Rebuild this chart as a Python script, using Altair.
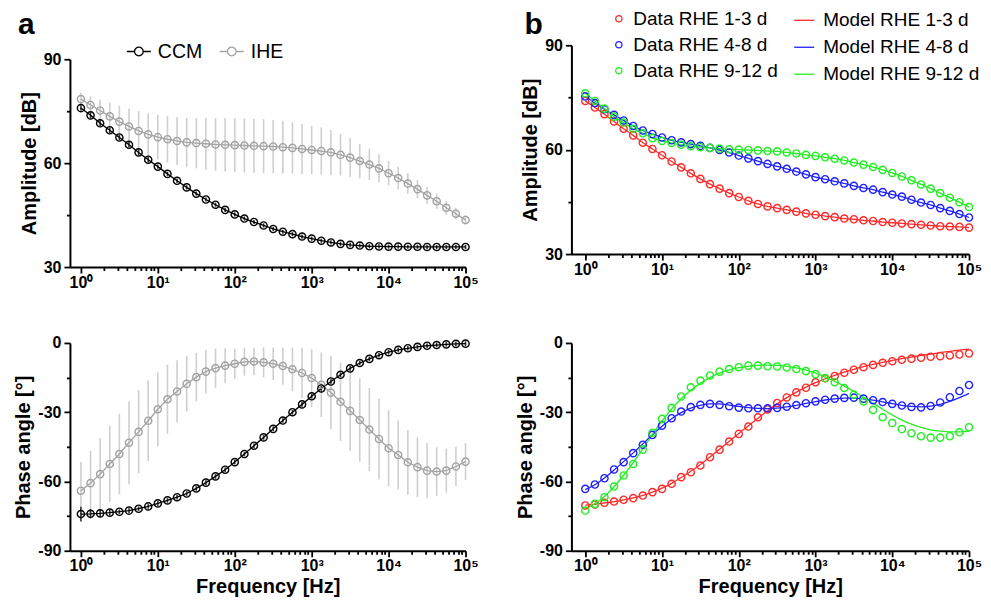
import altair as alt
import pandas as pd

FONT = "Liberation Sans"

# ---------------- data ----------------
freq = [1, 1.334, 1.778, 2.371, 3.162, 4.217, 5.623, 7.499,
        10, 13.34, 17.78, 23.71, 31.62, 42.17, 56.23, 74.99,
        100, 133.4, 177.8, 237.1, 316.2, 421.7, 562.3, 749.9,
        1000, 1334, 1778, 2371, 3162, 4217, 5623, 7499,
        10000, 13335, 17783, 23714, 31623, 42170, 56234, 74989,
        100000]

ccm_amp = [75.9, 73.8, 71.5, 69.5, 67.4, 65.3, 63.1, 61.0,
           59.0, 56.9, 54.9, 53.0, 51.2, 49.5, 48.0, 46.5,
           45.2, 44.0, 43.0, 42.0, 41.0, 40.2, 39.5, 38.8,
           38.2, 37.6, 37.1, 36.7, 36.4, 36.2, 36.0, 35.95,
           35.9, 35.9, 35.85, 35.85, 35.8, 35.8, 35.8, 35.8, 35.8]
ccm_amp_err = [0.8] * 8 + [0.6] * 33
ihe_amp = [78.5, 76.8, 75.2, 73.5, 72.0, 70.6, 69.3, 68.3,
           67.5, 66.9, 66.4, 66.0, 65.8, 65.6, 65.4, 65.3,
           65.2, 65.1, 65.0, 64.9, 64.8, 64.6, 64.4, 64.1,
           63.8, 63.5, 63.1, 62.4, 61.6, 60.6, 59.6, 58.5,
           57.1, 55.7, 54.1, 52.5, 50.7, 49.0, 47.1, 45.4, 43.6]
ihe_amp_err = [1.8, 2.5, 3.2, 4.0, 4.6, 5.2, 5.7, 6.1,
               6.4, 6.7, 6.9, 7.1, 7.3, 7.5, 7.6, 7.7,
               7.8, 7.8, 7.8, 7.8, 7.7, 7.6, 7.4, 7.2,
               7.0, 6.8, 6.5, 6.0, 5.6, 5.0, 4.5, 4.1,
               3.5, 3.3, 3.0, 2.7, 2.4, 2.2, 2.0, 1.7, 1.4]

ccm_ph = [-74.1, -74.0, -73.8, -73.5, -73.1, -72.6, -71.8, -70.8,
          -69.5, -68.2, -66.8, -65.2, -63.0, -60.5, -57.8, -54.9,
          -51.6, -48.1, -44.5, -40.9, -37.2, -33.6, -30.0, -26.6,
          -23.1, -19.7, -16.7, -13.8, -11.0, -8.7, -6.9, -5.3,
          -4.0, -3.0, -2.3, -1.7, -1.2, -0.9, -0.6, -0.4, -0.3]
ccm_ph_err = [3.2, 2.0, 1.5, 1.2] + [1.0] * 37
ihe_ph = [-64.0, -60.7, -56.8, -52.4, -48.1, -43.2, -38.5, -33.7,
          -28.7, -24.4, -21.0, -17.7, -14.8, -12.4, -10.9, -9.8,
          -9.0, -8.2, -8.0, -8.4, -9.0, -10.0, -11.4, -13.0,
          -15.2, -18.1, -21.5, -25.5, -29.4, -33.4, -37.5, -41.6,
          -45.6, -48.5, -51.7, -53.8, -55.3, -55.7, -55.3, -53.5, -51.4]
ihe_ph_err = [12.5, 14, 15.5, 16.5, 17.5, 18, 18, 17.5,
              16, 15, 13.5, 12, 10.5, 9.5, 8.5, 7.5,
              6.5, 6, 6, 6.5, 7, 8, 9.5, 11,
              12.5, 14, 16, 17, 17.5, 18, 18, 17.5,
              16.5, 15, 14, 13, 12, 10.5, 9.5, 8.5, 8]

red_amp = [74.0, 72.1, 70.2, 68.1, 66.0, 64.1, 62.0, 60.2,
           58.4, 56.6, 54.9, 53.2, 51.6, 50.1, 48.8, 47.5,
           46.4, 45.3, 44.4, 43.7, 43.2, 42.7, 42.2, 41.7,
           41.3, 40.9, 40.6, 40.2, 40.0, 39.7, 39.5, 39.2,
           39.0, 38.8, 38.6, 38.4, 38.2, 38.0, 37.9, 37.8, 37.6]
blue_amp = [75.3, 73.4, 71.6, 70.0, 68.4, 66.8, 65.5, 64.5,
            63.5, 62.7, 62.1, 61.6, 61.1, 60.5, 59.9, 59.2,
            58.3, 57.5, 56.7, 55.9, 55.2, 54.5, 53.7, 52.9,
            52.1, 51.5, 50.9, 50.3, 49.6, 49.0, 48.5, 47.8,
            47.1, 46.5, 45.6, 44.8, 44.1, 43.2, 42.4, 41.5, 40.5]
green_amp = [76.2, 74.0, 71.8, 69.5, 67.8, 66.0, 64.7, 63.3,
             62.5, 61.9, 61.4, 61.0, 60.7, 60.5, 60.3, 60.1,
             60.0, 59.9, 59.8, 59.6, 59.5, 59.2, 58.9, 58.5,
             58.2, 57.8, 57.4, 56.9, 56.3, 55.7, 55.0, 54.2,
             53.3, 52.3, 51.2, 50.0, 48.8, 47.5, 46.2, 44.9, 43.5]
# model amplitude curves run through the data points
red_amp_model = red_amp
blue_amp_model = blue_amp
green_amp_model = green_amp

red_ph = [-70.4, -70.0, -69.2, -68.7, -67.9, -67.2, -66.1, -64.6,
          -63.2, -61.0, -58.1, -56.0, -53.1, -49.5, -46.2, -42.7,
          -39.4, -36.2, -32.2, -28.8, -26.0, -23.6, -21.4, -19.4,
          -17.0, -15.3, -14.3, -12.9, -11.6, -10.5, -9.5, -8.6,
          -7.9, -7.3, -6.8, -6.4, -6.0, -5.7, -5.4, -5.0, -4.5]
blue_ph = [-63.2, -61.3, -58.6, -54.8, -51.6, -47.7, -44.1, -39.8,
           -35.8, -32.6, -29.7, -27.8, -26.8, -26.4, -26.8, -27.4,
           -28.0, -28.3, -28.3, -28.3, -28.1, -27.6, -26.9, -26.1,
           -25.3, -24.6, -24.1, -23.8, -23.7, -24.1, -24.8, -25.6,
           -26.4, -27.1, -27.7, -27.9, -27.3, -25.8, -23.5, -20.8, -18.2]
green_ph = [-72.6, -69.7, -66.8, -62.2, -57.4, -52.4, -46.2, -38.9,
            -32.9, -28.1, -23.2, -19.2, -16.3, -14.1, -12.4, -11.3,
            -10.5, -9.8, -9.8, -10.1, -10.2, -10.6, -11.3, -12.2,
            -13.5, -15.2, -17.0, -19.5, -22.4, -25.3, -29.0, -32.2,
            -34.7, -37.3, -39.1, -40.4, -41.0, -41.0, -40.4, -38.7, -36.5]
red_ph_model = [-70.2, -69.9, -69.3, -68.7, -68.0, -67.1, -66.0, -64.6,
                -62.9, -60.8, -58.3, -55.6, -52.6, -49.4, -46.0, -42.6,
                -39.2, -35.9, -32.6, -29.4, -26.4, -23.7, -21.3, -19.1,
                -17.2, -15.5, -14.0, -12.6, -11.4, -10.3, -9.3, -8.4,
                -7.6, -6.8, -6.1, -5.4, -4.8, -4.2, -3.6, -3.1, -2.7]
blue_ph_model = [-63.5, -61.4, -58.5, -55.0, -51.4, -47.6, -43.7, -39.8,
                 -36.1, -32.8, -30.2, -28.2, -27.0, -26.4, -26.4, -26.9,
                 -27.5, -28.0, -28.3, -28.4, -28.2, -27.7, -27.0, -26.2,
                 -25.4, -24.7, -24.2, -23.9, -23.9, -24.2, -24.8, -25.5,
                 -26.3, -27.0, -27.5, -27.7, -27.4, -26.6, -25.3, -23.7, -21.8]
green_ph_model = [-71.8, -69.6, -66.5, -62.3, -57.3, -51.8, -45.8, -39.6,
                  -33.8, -28.6, -24.2, -20.5, -17.5, -15.0, -13.1, -11.7,
                  -10.7, -10.1, -9.7, -9.6, -9.7, -10.1, -10.8, -11.8,
                  -13.1, -14.7, -16.6, -18.7, -21.0, -23.5, -26.1, -28.7,
                  -31.2, -33.4, -35.2, -36.6, -37.6, -38.2, -38.5, -38.5, -38.3]

series_a = ["CCM", "IHE"]
colors_a = ["#000000", "#a3a3a3"]
data_labels = ["Data RHE 1-3 d", "Data RHE 4-8 d", "Data RHE 9-12 d"]
model_labels = ["Model RHE 1-3 d", "Model RHE 4-8 d", "Model RHE 9-12 d"]
colors_b = ["#ff2a2a", "#2020ff", "#22ee22"]
panel_letters = ["a", "b"]

x_ticks = [m * 10 ** d for d in range(5) for m in range(1, 10)] + [100000]
amp_ticks = [30, 45, 60, 75, 90]
ph_ticks = [-90, -75, -60, -45, -30, -15, 0]

# ---------------- tables ----------------
n = len(freq)
dfA = pd.DataFrame({
    "f": freq * 2,
    "series": ["IHE"] * n + ["CCM"] * n,
    "amp": ihe_amp + ccm_amp,
    "amp_err": ihe_amp_err + ccm_amp_err,
    "ph": ihe_ph + ccm_ph,
    "ph_err": ihe_ph_err + ccm_ph_err,
})
dfA["amp_lo"] = dfA["amp"] - dfA["amp_err"]
dfA["amp_hi"] = dfA["amp"] + dfA["amp_err"]
dfA["ph_lo"] = dfA["ph"] - dfA["ph_err"]
dfA["ph_hi"] = dfA["ph"] + dfA["ph_err"]

dfB = pd.DataFrame({
    "f": freq * 3,
    "dlabel": sum([[l] * n for l in data_labels], []),
    "mlabel": sum([[l] * n for l in model_labels], []),
    "amp": red_amp + blue_amp + green_amp,
    "amp_m": red_amp_model + blue_amp_model + green_amp_model,
    "ph": red_ph + blue_ph + green_ph,
    "ph_m": red_ph_model + blue_ph_model + green_ph_model,
})

# ---------------- axes ----------------
IS_DEC = "abs(log(datum.value)/LN10 - round(log(datum.value)/LN10)) < 0.001"
X_LABEL = (IS_DEC + " ? '10' + ['\u2070','\u00b9','\u00b2','\u00b3','\u2074','\u2075']"
           "[round(log(datum.value)/LN10)] : ''")
Y_MAJOR = "datum.value % 30 == 0"

common_axis = dict(
    grid=False, domainColor="black", domainWidth=2, tickColor="black", tickWidth=1.8,
    labelFont=FONT, labelFontSize=16, labelFontWeight="bold", labelColor="black",
    titleFont=FONT, titleFontSize=20, titleFontWeight="bold", titleColor="black",
    labelOverlap=False, labelFlush=False,
)


def x_axis(title):
    return alt.Axis(values=x_ticks, labelExpr=X_LABEL, title=title,
                    tickSize={"condition": {"test": IS_DEC, "value": 6}, "value": 3.5},
                    labelPadding=1, titlePadding=3, **common_axis)


def y_axis(title, ticks):
    return alt.Axis(values=ticks, title=title,
                    labelExpr=Y_MAJOR + " ? '' + datum.value : ''",
                    tickSize={"condition": {"test": Y_MAJOR, "value": 6}, "value": 3.5},
                    labelPadding=3, titlePadding=4, **common_axis)


def xenc(xmin, title):
    return alt.X("f:Q", scale=alt.Scale(type="log", domain=[xmin, 100000], nice=False),
                 axis=x_axis(title))


def yenc(field, dom, title, ticks, rng):
    if rng:
        sc = alt.Scale(domain=dom, range=rng, nice=False, zero=False)
    else:
        sc = alt.Scale(domain=dom, nice=False, zero=False)
    return alt.Y(field, scale=sc, axis=y_axis(title, ticks))


def letter(txt, dx, dy):
    return alt.Chart(pd.DataFrame({"t": [txt]})).mark_text(
        font=FONT, fontSize=30, fontWeight="bold", align="left", baseline="alphabetic",
        color="black",
    ).encode(text="t:N", x=alt.value(dx), y=alt.value(dy))


W_A, W_B = 396, 398
H_A_TOP, A_TOP_OFFSET = 222, 14     # left top panel sits 14px lower than right top panel
H_B_TOP, H_BOT = 209, 208
XMIN_A, XMIN_B = 0.72, 0.66

# ---------------- panel a ----------------
legendA = alt.Legend(
    orient="none", legendX=56, legendY=-7, direction="horizontal", title=None,
    symbolType="M-1,0L-0.36,0M0.36,0L1,0M0.36,0A0.36,0.36,0,1,1,-0.36,0A0.36,0.36,0,1,1,0.36,0",
    symbolSize=576, symbolStrokeWidth=1.3, symbolFillColor="transparent",
    labelFont=FONT, labelFontSize=19.5, labelColor="black", labelOffset=6, labelLimit=300,
    columnPadding=14, padding=0,
)
err_color = alt.condition("datum.series == 'IHE'", alt.value("#cfcfcf"), alt.value("#333333"))


def panel_a(var, dom, ytitle, ticks, xtitle, legend, extra, height, rng):
    base = alt.Chart(dfA)
    cenc = alt.Color("series:N", scale=alt.Scale(domain=series_a, range=colors_a),
                     legend=legendA if legend else None)
    err = base.mark_rule(strokeWidth=1.6).encode(
        x=xenc(XMIN_A, xtitle),
        y=yenc(var + "_lo:Q", dom, ytitle, ticks, rng),
        y2=var + "_hi:Q",
        color=err_color,
    )
    line = base.mark_line(strokeWidth=1.3).encode(
        x=xenc(XMIN_A, xtitle), y=yenc(var + ":Q", dom, ytitle, ticks, rng), color=cenc)
    pts = base.mark_point(filled=False, size=52, strokeWidth=1.4, opacity=1).encode(
        x=xenc(XMIN_A, xtitle), y=yenc(var + ":Q", dom, ytitle, ticks, rng), color=cenc)
    layers = [err, line, pts] + extra
    return alt.layer(*layers).properties(width=W_A, height=height)


a_top = panel_a("amp", [30, 90], "Amplitude [dB]", amp_ticks, None, True,
                [letter(panel_letters[0], -52, -11)], H_A_TOP, [H_A_TOP, A_TOP_OFFSET])
a_bot = panel_a("ph", [-90, 0], "Phase angle [°]", ph_ticks, "Frequency [Hz]", False, [],
                H_BOT, None)

# ---------------- panel b ----------------
legend_data = alt.Legend(
    orient="none", legendX=38, legendY=-36, direction="vertical", title=None,
    symbolType="circle", symbolSize=40, symbolStrokeWidth=1.3, symbolFillColor="transparent",
    labelFont=FONT, labelFontSize=19, labelColor="black", labelOffset=5, labelLimit=300,
    rowPadding=6, padding=0,
)
legend_model = alt.Legend(
    orient="none", legendX=222, legendY=-36, direction="vertical", title=None,
    symbolType="stroke", symbolSize=400, symbolStrokeWidth=1.3,
    labelFont=FONT, labelFontSize=19, labelColor="black", labelOffset=8, labelLimit=300,
    rowPadding=6, padding=0,
)


def panel_b(var, dom, ytitle, ticks, xtitle, legend, extra, height):
    base = alt.Chart(dfB)
    cd = alt.Color("dlabel:N", scale=alt.Scale(domain=data_labels, range=colors_b),
                   legend=legend_data if legend else None)
    cm = alt.Color("mlabel:N", scale=alt.Scale(domain=model_labels, range=colors_b),
                   legend=legend_model if legend else None)
    line = base.mark_line(strokeWidth=1.3, interpolate="monotone").encode(
        x=xenc(XMIN_B, xtitle), y=yenc(var + "_m:Q", dom, ytitle, ticks, None), color=cm)
    pts = base.mark_point(filled=False, size=52, strokeWidth=1.4, opacity=1).encode(
        x=xenc(XMIN_B, xtitle), y=yenc(var + ":Q", dom, ytitle, ticks, None), color=cd)
    layers = [line, pts] + extra
    return alt.layer(*layers).resolve_scale(color="independent").properties(width=W_B, height=height)


b_top = panel_b("amp", [30, 90], "Amplitude [dB]", amp_ticks, None, True,
                [letter(panel_letters[1], -47, -11)], H_B_TOP)
b_bot = panel_b("ph", [-90, 0], "Phase angle [°]", ph_ticks, "Frequency [Hz]", False, [], H_BOT)

colA = alt.vconcat(a_top, a_bot, spacing=43)
colB = alt.vconcat(b_top, b_bot, spacing=56)

chart = alt.hconcat(colA, colB, spacing=35).properties(
    padding={"left": 5, "top": 0, "right": 0, "bottom": 0},
    background="white",
).configure_view(stroke="transparent")

chart.save("out.html", embed_options={"renderer": "svg", "actions": False})
